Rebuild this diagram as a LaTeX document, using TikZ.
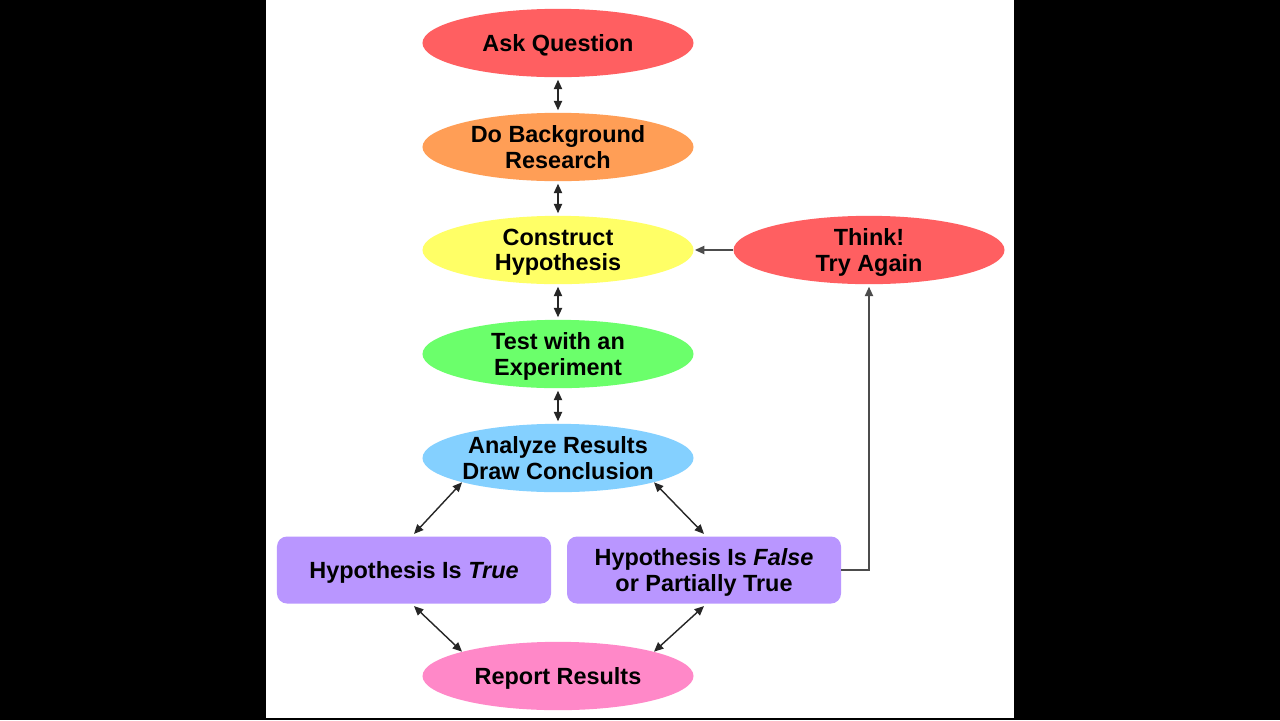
\documentclass[tikz,border=0pt]{standalone}
\usepackage{fontspec}
\setmainfont{Liberation Sans}
\usepackage{xcolor}
\usetikzlibrary{arrows.meta,shapes.geometric,positioning,calc}

\definecolor{askred}{HTML}{FF5F61}
\definecolor{bgorange}{HTML}{FF9E56}
\definecolor{hypyellow}{HTML}{FFFF66}
\definecolor{testgreen}{HTML}{6BFF6B}
\definecolor{anablue}{HTML}{84D0FF}
\definecolor{resviolet}{HTML}{B996FF}
\definecolor{reppink}{HTML}{FF88C8}

\begin{document}
\begin{tikzpicture}[
    x=0.03cm,y=-0.03cm,
    stage/.style={ellipse,draw=none,inner sep=0pt,minimum width=8.13cm,minimum height=2.05cm,font=\fontsize{20}{21.5}\selectfont\bfseries,align=center,text depth=0pt},
    outcome/.style={rectangle,draw=none,rounded corners=0.3cm,minimum width=8.22cm,minimum height=2.01cm,font=\fontsize{20}{21.5}\selectfont\bfseries,align=center,fill=resviolet,text depth=0pt},
    both/.style={{Triangle[length=8pt,width=7pt]}-{Triangle[length=8pt,width=7pt]},line width=1.2pt,black!85},
    back/.style={-{Triangle[length=8pt,width=7pt]},line width=1.2pt,black!70},
]
% frame
\fill[black] (0,0) rectangle (1280,720);
\fill[white] (266,0) rectangle (1014,718);
\useasboundingbox (0,0) rectangle (1280,720);

\node[stage,fill=askred]    (ask)  at (558,43)  {Ask Question};
\node[stage,fill=bgorange]  (bg)   at (558,147) {Do Background\\Research};
\node[stage,fill=hypyellow] (hyp)  at (558,250) {Construct\\Hypothesis};
\node[stage,fill=testgreen] (test) at (558,354) {Test with an\\Experiment};
\node[stage,fill=anablue]   (ana)  at (558,458) {Analyze Results\\Draw Conclusion};
\node[stage,fill=askred]    (again) at (869,250) {Think!\\Try Again};
\node[outcome] (true)  at (414,570) {Hypothesis Is \textit{True}};
\node[outcome] (false) at (704,570) {Hypothesis Is \textit{False}\\or Partially True};
\node[stage,fill=reppink]   (rep)  at (558,676) {Report Results};

\draw[both] ([yshift=-2pt]ask.south) -- ([yshift=2pt]bg.north);
\draw[both] ([yshift=-2pt]bg.south) -- ([yshift=2pt]hyp.north);
\draw[both] ([yshift=-2pt]hyp.south) -- ([yshift=2pt]test.north);
\draw[both] ([yshift=-2pt]test.south) -- ([yshift=2pt]ana.north);
\draw[both] (ana.south west) -- ([yshift=2pt]true.north);
\draw[both] (ana.south east) -- ([yshift=2pt]false.north);
\draw[both] ([yshift=-2pt]true.south) -- (rep.north west);
\draw[both] ([yshift=-2pt]false.south) -- (rep.north east);
\draw[back] (false.east) -| ([yshift=-2pt]again.south);
\draw[back] (again.west) -- ([xshift=1pt]hyp.east);
\end{tikzpicture}
\end{document}
